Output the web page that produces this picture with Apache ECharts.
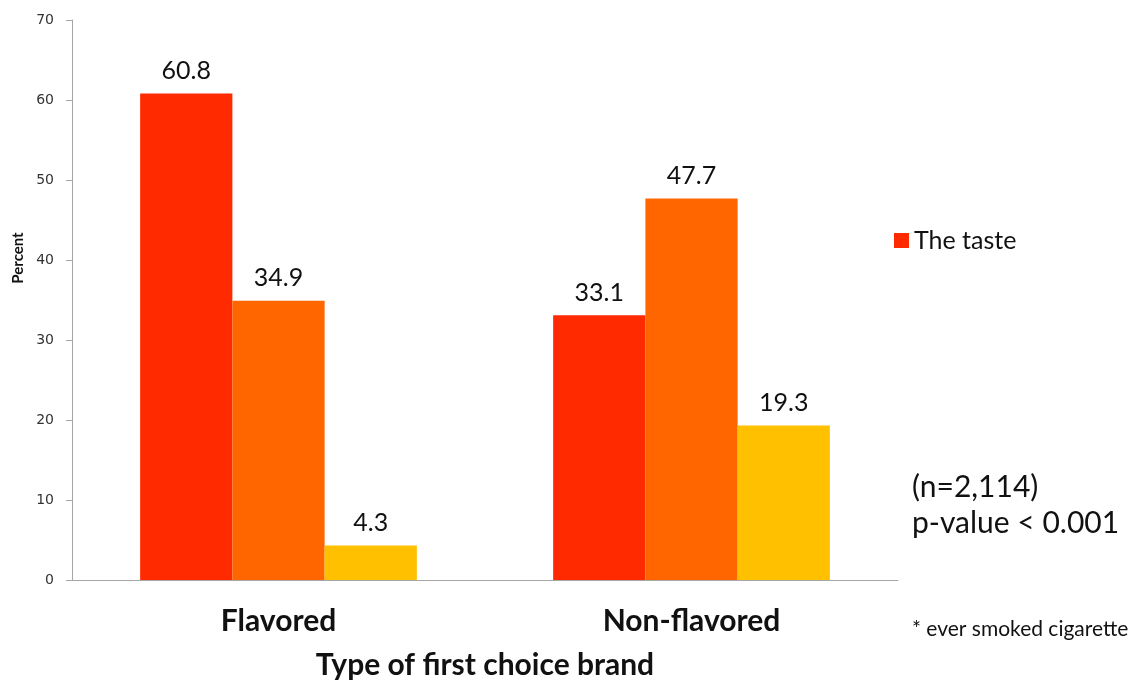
<!DOCTYPE html>
<html><head><meta charset="utf-8">
<script src="https://cdn.jsdelivr.net/npm/echarts@6/dist/echarts.min.js"></script>
<style>html,body{margin:0;padding:0;background:#fff}#c{width:1139px;height:685px}</style>
</head><body><div id="c"></div>
<script>
const categories = ['Flavored', 'Non-flavored'];
const seriesNames = ['The taste', 'Reason 2', 'Reason 3'];
const valuesTaste = [60.8, 33.1];
const valuesReason2 = [34.9, 47.7];
const valuesReason3 = [4.3, 19.3];
const yTicks = [0, 10, 20, 30, 40, 50, 60, 70];
const colors = ['#FF2A00', '#FF6600', '#FFC000'];
const FONT = 'Lato, "Open Sans", sans-serif';

const chart = echarts.init(document.getElementById('c'));
const lbl = {show: true, position: 'top', distance: 10, color: '#111', fontSize: 25, fontFamily: FONT};
chart.setOption({
  animation: false,
  grid: {left: 72, top: 20, right: 241, bottom: 104},
  legend: {data: ['The taste'], left: 889, top: 223, itemWidth: 15, itemHeight: 15, itemGap: 8,
    icon: 'rect', textStyle: {fontSize: 25, fontFamily: FONT, color: '#111'}},
  xAxis: {type: 'category', data: categories,
    axisLine: {lineStyle: {color: '#a6a6a6'}}, axisTick: {length: 8, lineStyle: {color: '#a6a6a6'}},
    axisLabel: {fontSize: 30, fontWeight: 'bold', fontFamily: FONT, color: '#111', margin: 26},
    name: 'Type of first choice brand', nameLocation: 'middle', nameGap: 70,
    nameTextStyle: {fontSize: 30, fontWeight: 'bold', fontFamily: FONT, color: '#111'}},
  yAxis: {type: 'value', min: yTicks[0], max: yTicks[yTicks.length - 1], interval: 10,
    splitLine: {show: false},
    axisLine: {show: true, lineStyle: {color: '#a6a6a6'}},
    axisTick: {show: true, length: 6, lineStyle: {color: '#a6a6a6'}},
    axisLabel: {fontSize: 14, fontFamily: 'DejaVu Sans', color: '#333', margin: 18}},
  series: [
    {name: seriesNames[0], type: 'bar', data: valuesTaste, itemStyle: {color: colors[0]}, label: lbl, barGap: '0%', barCategoryGap: '33%'},
    {name: seriesNames[1], type: 'bar', data: valuesReason2, itemStyle: {color: colors[1]}, label: lbl},
    {name: seriesNames[2], type: 'bar', data: valuesReason3, itemStyle: {color: colors[2]}, label: lbl}
  ],
  graphic: [
    {type: 'text', x: 18, y: 258, rotation: Math.PI / 2,
      style: {text: 'Percent', align: 'center', verticalAlign: 'middle', fontSize: 15, fontWeight: 'bold', fontFamily: FONT, fill: '#111'}},
    {type: 'text', left: 912, top: 469, style: {text: '(n=2,114)\np-value < 0.001', fontSize: 30, lineHeight: 36, fontFamily: FONT, fill: '#111'}},
    {type: 'text', left: 912, top: 619, style: {text: '* ever smoked cigarette', fontSize: 21, fontFamily: FONT, fill: '#111'}}
  ]
});
</script></body></html>
